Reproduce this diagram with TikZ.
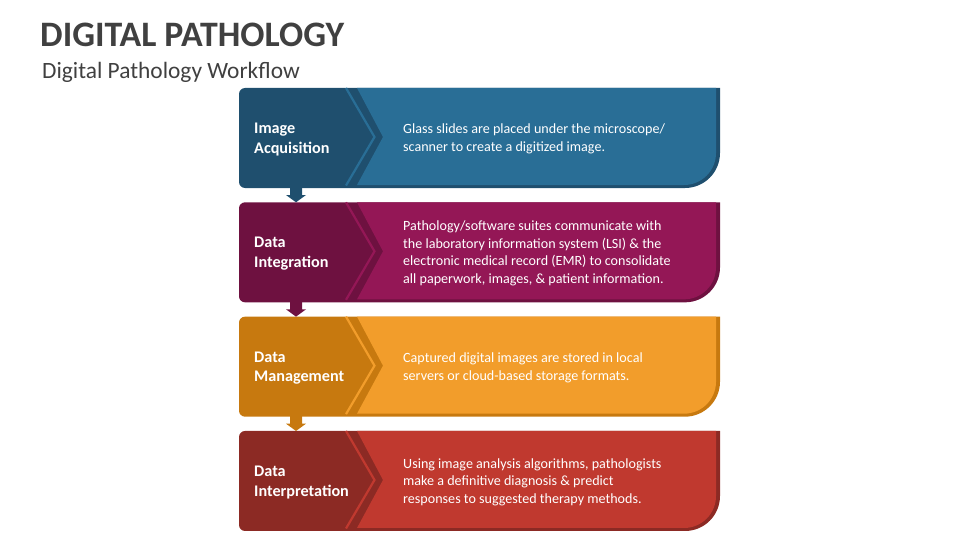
\documentclass[tikz,border=0pt]{standalone}
\usepackage{fontspec}
\setmainfont{Carlito}
\definecolor{titlegray}{HTML}{404040}
\definecolor{dkA}{HTML}{1F4F6E}
\definecolor{ltA}{HTML}{296E96}
\definecolor{dkB}{HTML}{6E1140}
\definecolor{ltB}{HTML}{941756}
\definecolor{dkC}{HTML}{C7790F}
\definecolor{ltC}{HTML}{F29D2B}
\definecolor{dkD}{HTML}{8C2A24}
\definecolor{ltD}{HTML}{C0392F}
\tikzset{
  labeltext/.style={anchor=west, align=left, text=white, inner sep=0pt,
    font=\fontsize{16.2}{19.5}\selectfont\bfseries},
  desctext/.style={anchor=west, align=left, text=white, inner sep=0pt,
    font=\fontsize{14.1}{17.4}\selectfont},
}
\begin{document}
\begin{tikzpicture}[x=1pt, y=-1pt]
\useasboundingbox (0,0) rectangle (960,540);
\node[anchor=base west, inner sep=0pt, text=titlegray, font=\fontsize{35.8}{40}\selectfont\bfseries] (title) at (40,46.5) {DIGITAL PATHOLOGY};
\node[anchor=base west, inner sep=0pt, text=titlegray, font=\fontsize{23.4}{28}\selectfont] (subtitle) at (42,78.5) {Digital Pathology Workflow};
\foreach \i/\dk/\lt/\lab/\desc in {
  0/dkA/ltA/{Image\\Acquisition}/{Glass slides are placed under the microscope/\\scanner to create a digitized image.},
  1/dkB/ltB/{Data\\Integration}/{Pathology/software suites communicate with\\the laboratory information system (LSI) \& the\\electronic medical record (EMR) to consolidate\\all paperwork, images, \& patient information.},
  2/dkC/ltC/{Data\\Management}/{Captured digital images are stored in local\\servers or cloud-based storage formats.},
  3/dkD/ltD/{Data\\Interpretation}/{Using image analysis algorithms, pathologists\\make a definitive diagnosis \& predict\\responses to suggested therapy methods.}}
{
  \pgfmathsetmacro{\t}{88+114.33*\i}
  \pgfmathsetmacro{\b}{\t+100}
  \pgfmathsetmacro{\m}{\t+49}
  % dark base card
  \fill[\dk] (239,\t+6) arc[start angle=180, end angle=270, radius=6]
    -- (720,\t) -- (720,\b-35) arc[start angle=0, end angle=90, radius=35]
    -- (245,\b) arc[start angle=90, end angle=180, radius=6] -- cycle;
  % light region
  \fill[\lt] (357,\t) -- (716,\t) -- (716,\b-3-32) arc[start angle=0, end angle=90, radius=32]
    -- (357,\b-3) -- (383,\m) -- cycle;
  % thin light chevron line
  \draw[\lt, line width=2.2pt] (346,\t) -- (374.5,\m) -- (346,\b-2.5);
  \node[labeltext] (lab\i) at (254,\m+2.5) {\lab};
  \node[desctext] (desc\i) at (403,\m+2) {\desc};
}
% arrows between rows
\foreach \i/\dk in {0/dkA,1/dkB,2/dkC}{
  \pgfmathsetmacro{\b}{188+114.33*\i}
  \fill[\dk] (290,\b-1) -- (302,\b-1) -- (302,\b+7) -- (306,\b+7) -- (296,\b+14.3)
    -- (286,\b+7) -- (290,\b+7) -- cycle;
}
\end{tikzpicture}
\end{document}
